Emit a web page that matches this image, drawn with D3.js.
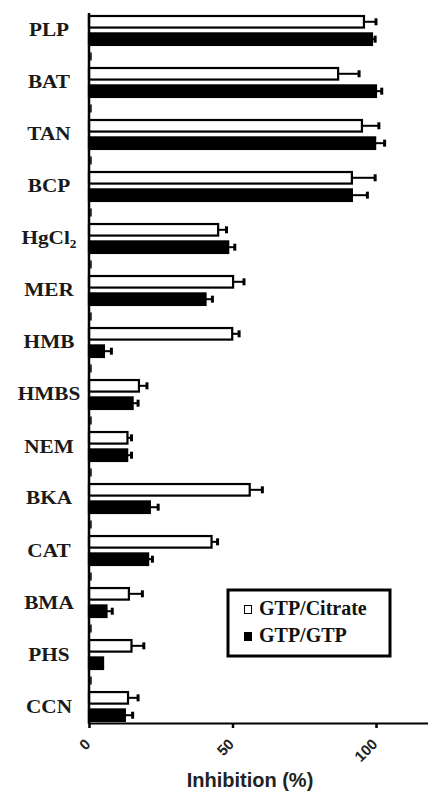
<!DOCTYPE html>
<html>
<head>
<meta charset="utf-8">
<script src="https://cdnjs.cloudflare.com/ajax/libs/d3/7.8.5/d3.min.js"></script>
<style>
    html, body { margin: 0; padding: 0; background: #ffffff; }
    #plot { width: 428px; height: 792px; }
</style>
</head>
<body>
<div id="plot"></div>
<script>
// categories, top to bottom
var categories = ["PLP", "BAT", "TAN", "BCP", "HgCl2", "MER", "HMB", "HMBS", "NEM", "BKA", "CAT", "BMA", "PHS", "CCN"];

// GTP/Citrate (white bars) and GTP/GTP (black bars), % inhibition
var citrateValues = [95.8, 86.8, 95.1, 91.6, 45.0, 50.2, 49.9, 17.4, 13.4, 56.0, 42.7, 13.9, 14.8, 13.6];
var citrateErrors = [4.2, 7.3, 5.9, 8.1, 2.9, 3.8, 2.4, 2.8, 1.4, 4.4, 2.1, 4.7, 4.3, 3.5];
var gtpValues = [98.6, 100.0, 99.7, 91.6, 48.5, 40.6, 5.2, 15.2, 13.3, 21.2, 20.6, 6.1, 4.9, 12.5];
var gtpErrors = [1.1, 2.0, 3.3, 5.4, 2.3, 2.4, 2.6, 1.9, 1.5, 2.9, 1.5, 2.0, 0, 2.7];

var xTicks = [0, 50, 100];
var seriesNames = ["GTP/Citrate", "GTP/GTP"];
var seriesFills = ["#ffffff", "#000000"];

var app = app || {};

app.draw = function () {
    var width = 428,
        height = 792,
        left = 89,
        top = 15,
        bottom = 723,
        pxPerUnit = 2.87;

    var svg = d3.select("#plot").append("svg")
        .attr("width", width)
        .attr("height", height);

    var x = d3.scaleLinear()
        .domain([0, 120])
        .range([left, left + 120 * pxPerUnit]);

    var y = d3.scaleBand()
        .domain(categories)
        .range([top, bottom - 1])
        .paddingInner(0.405)
        .paddingOuter(0);

    var ySub = d3.scaleBand()
        .domain([0, 1])
        .range([0, y.bandwidth()])
        .paddingInner(0.22);

    //собираем таблицу строк: одна строка на каждый столбик
    var rows = [];
    categories.forEach(function (c, i) {
        rows.push({cat: c, s: 0, v: citrateValues[i], e: citrateErrors[i]});
        rows.push({cat: c, s: 1, v: gtpValues[i], e: gtpErrors[i]});
    });

    var bars = svg.append("g");

    // error bars (drawn first, bar covers the start)
    bars.selectAll("line.err")
        .data(rows.filter(function (d) { return d.e > 0; }))
        .enter().append("line")
        .attr("class", "err")
        .attr("x1", function (d) { return x(d.v); })
        .attr("x2", function (d) { return x(d.v + d.e); })
        .attr("y1", function (d) { return y(d.cat) + ySub(d.s) + ySub.bandwidth() / 2; })
        .attr("y2", function (d) { return y(d.cat) + ySub(d.s) + ySub.bandwidth() / 2; })
        .attr("stroke", "#000")
        .attr("stroke-width", 2);

    bars.selectAll("line.cap")
        .data(rows.filter(function (d) { return d.e > 0; }))
        .enter().append("line")
        .attr("class", "cap")
        .attr("x1", function (d) { return x(d.v + d.e); })
        .attr("x2", function (d) { return x(d.v + d.e); })
        .attr("y1", function (d) { return y(d.cat) + ySub(d.s) + ySub.bandwidth() / 2 - 3.5; })
        .attr("y2", function (d) { return y(d.cat) + ySub(d.s) + ySub.bandwidth() / 2 + 3.5; })
        .attr("stroke", "#000")
        .attr("stroke-width", 3);

    bars.selectAll("rect.bar")
        .data(rows)
        .enter().append("rect")
        .attr("class", "bar")
        .attr("x", x(0))
        .attr("y", function (d) { return y(d.cat) + ySub(d.s) + 1; })
        .attr("width", function (d) { return x(d.v) - x(0); })
        .attr("height", ySub.bandwidth() - 2)
        .attr("fill", function (d) { return seriesFills[d.s]; })
        .attr("stroke", "#000")
        .attr("stroke-width", 2.2);

    // y axis line and the small marks between groups
    svg.append("line")
        .attr("x1", left).attr("x2", left)
        .attr("y1", top - 2).attr("y2", bottom + 1)
        .attr("stroke", "#000")
        .attr("stroke-width", 2.5);

    svg.selectAll("rect.ymark")
        .data(categories.slice(1))
        .enter().append("rect")
        .attr("class", "ymark")
        .attr("x", left + 1)
        .attr("y", function (c) { return y(c) - y.step() * y.paddingInner() / 2 - 4; })
        .attr("width", 1.8)
        .attr("height", 8)
        .attr("fill", "#222");

    // category labels
    var labels = svg.append("g")
        .attr("font-family", "'Liberation Serif', 'Times New Roman', serif")
        .attr("font-weight", "bold")
        .attr("font-size", "19px")
        .attr("fill", "#1a1a1a");

    categories.forEach(function (c) {
        var t = labels.append("text")
            .attr("x", 49)
            .attr("y", y(c) + y.bandwidth() / 2 + 6)
            .attr("text-anchor", "middle")
            .attr("transform", "translate(49,0) scale(1.12,1) translate(-49,0)");
        if (c === "HgCl2") {
            t.append("tspan").text("HgCl");
            t.append("tspan").attr("font-size", "12px").attr("dy", 4).text("2");
        } else {
            t.text(c);
        }
    });

    // x axis
    var xAxis = d3.axisBottom(x)
        .tickValues(xTicks)
        .tickSize(5)
        .tickSizeOuter(0)
        .tickFormat(d3.format("d"));

    var gx = svg.append("g")
        .attr("transform", "translate(0," + bottom + ")")
        .call(xAxis);

    gx.select(".domain")
        .attr("stroke", "#000")
        .attr("stroke-width", 2);
    gx.selectAll(".tick line")
        .attr("stroke", "#000")
        .attr("stroke-width", 2.5);
    gx.selectAll(".tick text")
        .attr("font-family", "'Liberation Sans', Arial, sans-serif")
        .attr("font-weight", "bold")
        .attr("font-size", "15px")
        .attr("fill", "#222")
        .attr("text-anchor", "end")
        .attr("dy", 0)
        .attr("y", 0)
        .attr("transform", "translate(2,22) rotate(-45)");

    svg.append("text")
        .attr("x", 250)
        .attr("y", 787)
        .attr("text-anchor", "middle")
        .attr("font-family", "'Liberation Sans', Arial, sans-serif")
        .attr("font-weight", "bold")
        .attr("font-size", "20px")
        .attr("fill", "#222")
        .text("Inhibition (%)");

    // legend
    var legend = svg.append("g");
    legend.append("rect")
        .attr("x", 228).attr("y", 590)
        .attr("width", 162).attr("height", 66)
        .attr("fill", "#fff")
        .attr("stroke", "#000")
        .attr("stroke-width", 3);

    seriesNames.forEach(function (name, i) {
        var yy = 615 + i * 27;
        legend.append("rect")
            .attr("x", 244.5).attr("y", yy - 9.5)
            .attr("width", 7).attr("height", 8)
            .attr("fill", seriesFills[i])
            .attr("stroke", "#000")
            .attr("stroke-width", 1);
        legend.append("text")
            .attr("x", 259)
            .attr("y", yy)
            .attr("font-family", "'Liberation Serif', 'Times New Roman', serif")
            .attr("font-weight", "bold")
            .attr("font-size", "20px")
            .attr("fill", "#111")
            .text(name);
    });
};

app.draw();
</script>
</body>
</html>
